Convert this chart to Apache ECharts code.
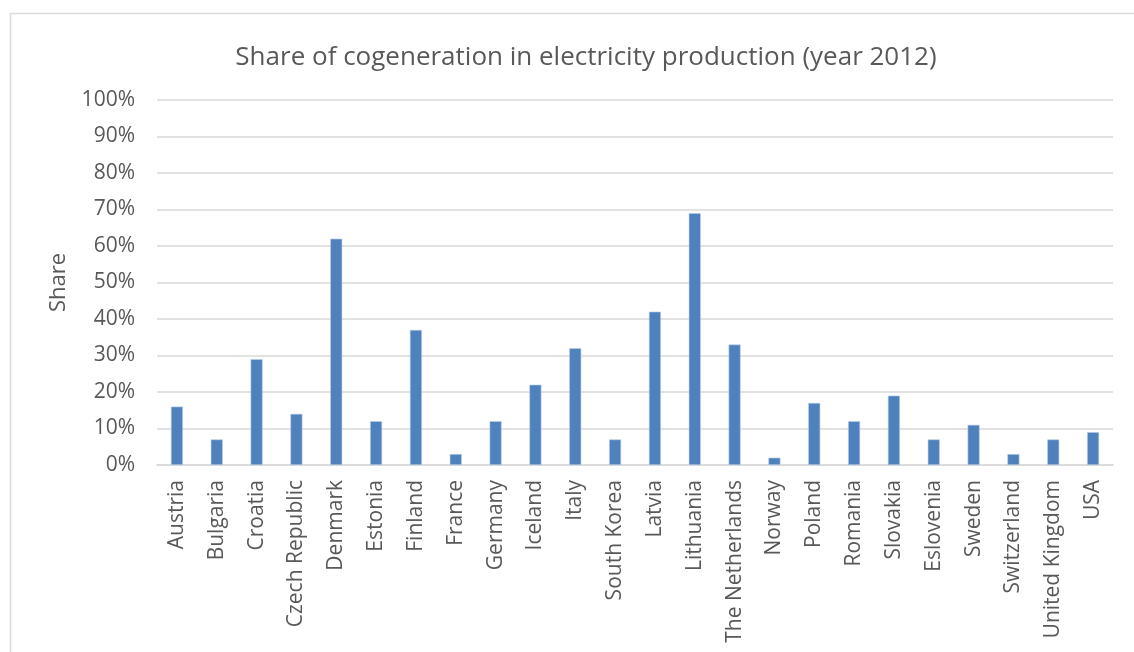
<!DOCTYPE html>
<html>
<head>
<meta charset="utf-8">
<script src="https://cdn.jsdelivr.net/npm/echarts@6/dist/echarts.min.js"></script>
<style>
  html, body { margin: 0; padding: 0; background: #ffffff; }
  #chart { width: 1134px; height: 652px; }
</style>
</head>
<body>
<div id="chart"></div>
<script>
// Countries shown along the horizontal axis
const countries = [
  'Austria', 'Bulgaria', 'Croatia', 'Czech Republic', 'Denmark', 'Estonia',
  'Finland', 'France', 'Germany', 'Iceland', 'Italy', 'South Korea',
  'Latvia', 'Lithuania', 'The Netherlands', 'Norway', 'Poland', 'Romania',
  'Slovakia', 'Eslovenia', 'Sweden', 'Switzerland', 'United Kingdom', 'USA'
];

// Share of cogeneration in electricity production, percent (2012)
const shares = [
  16, 7, 29, 14, 62, 12,
  37, 3, 12, 22, 32, 7,
  42, 69, 33, 2, 17, 12,
  19, 7, 11, 3, 7, 9
];

const titleText = 'Share of cogeneration in electricity production (year 2012)';
const yAxisName = 'Share';

const textColor = '#595959';
const gridColor = '#d9d9d9';
const font = '"Open Sans", "Noto Sans", sans-serif';

const chart = echarts.init(document.getElementById('chart'), null, { renderer: 'canvas' });

chart.setOption({
  backgroundColor: '#ffffff',
  animation: false,
  title: {
    text: titleText,
    left: 581,
    top: 40,
    textAlign: 'center',
    textStyle: { color: textColor, fontFamily: font, fontSize: 26, fontWeight: 'normal' }
  },
  graphic: [{
    type: 'rect',
    left: 8,
    top: 11,
    shape: { width: 1140, height: 660 },
    style: { fill: 'none', stroke: '#d9d9d9', lineWidth: 1.5 },
    silent: true,
    z: -1
  }],
  grid: { left: 157, right: 21, top: 100, bottom: 187, containLabel: false },
  xAxis: {
    type: 'category',
    data: countries,
    axisLine: { show: true, lineStyle: { color: gridColor, width: 1.5 } },
    axisTick: { show: false },
    axisLabel: {
      interval: 0,
      rotate: 90,
      margin: 15,
      color: textColor,
      fontFamily: font,
      fontSize: 21
    }
  },
  yAxis: {
    type: 'value',
    min: 0,
    max: 100,
    interval: 10,
    name: yAxisName,
    nameLocation: 'middle',
    nameGap: 87,
    nameTextStyle: { color: textColor, fontFamily: font, fontSize: 22 },
    axisLine: { show: false },
    axisTick: { show: false },
    axisLabel: {
      formatter: '{value}%',
      margin: 22,
      color: textColor,
      fontFamily: font,
      fontSize: 21
    },
    splitLine: { lineStyle: { color: gridColor, width: 1.5 } }
  },
  series: [{
    type: 'bar',
    data: shares,
    barWidth: 12,
    itemStyle: { color: '#4f81bd', borderColor: '#b9cde5', borderWidth: 0.6 }
  }]
});
</script>
</body>
</html>
